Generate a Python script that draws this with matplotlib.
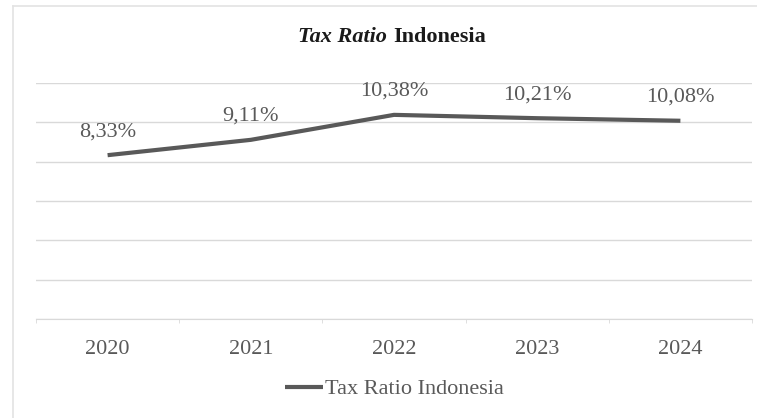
import matplotlib
matplotlib.use('Agg')
import matplotlib.pyplot as plt
from matplotlib.lines import Line2D

plt.rcParams['font.family'] = ['Liberation Serif', 'DejaVu Serif']

# data
years = ['2020', '2021', '2022', '2023', '2024']
tax_ratio = [8.33, 9.11, 10.38, 10.21, 10.08]
value_labels = ['8,33%', '9,11%', '10,38%', '10,21%', '10,08%']
series_name = 'Tax Ratio Indonesia'

grey_text = '#595959'
grid_col = '#d9d9d9'

fig = plt.figure(figsize=(7.57, 4.18), dpi=100)
ax = fig.add_axes([36 / 757, 1 - 319 / 418, (752 - 36) / 757, (319 - 83) / 418])

x = list(range(len(years)))
ax.plot(x, tax_ratio, color='#595959', lw=3, solid_capstyle='butt',
        label=series_name, zorder=3)

# data labels above points
for xi, v, lab in zip(x, tax_ratio, value_labels):
    ax.annotate(lab, (xi, v), xytext=(0, 17), textcoords='offset points',
                ha='center', va='center', fontsize=16, color=grey_text)

ax.set_xlim(-0.5, len(years) - 0.5)
ax.set_ylim(0, 12)
ax.set_yticks([0, 2, 4, 6, 8, 10, 12])
ax.set_yticklabels([])
ax.tick_params(axis='y', length=0)
ax.grid(axis='y', color=grid_col, lw=1)
ax.set_axisbelow(True)

ax.set_xticks(x)
ax.set_xticklabels(years, fontsize=16, color=grey_text)
ax.set_xticks([i - 0.5 for i in range(len(years) + 1)], minor=True)
ax.tick_params(axis='x', which='major', length=0, pad=15)
ax.tick_params(axis='x', which='minor', length=3, color=grid_col)

for side in ['top', 'right', 'left']:
    ax.spines[side].set_visible(False)
ax.spines['bottom'].set_color(grid_col)

# title: "Tax Ratio" bold italic, "Indonesia" bold
t1 = fig.text(0, 0, 'Tax Ratio ', fontsize=16, fontweight='bold', style='italic',
              color='#1a1a1a', va='center')
t2 = fig.text(0, 0, 'Indonesia', fontsize=16, fontweight='bold',
              color='#1a1a1a', va='center')
fig.canvas.draw()
r = fig.canvas.get_renderer()
w1 = t1.get_window_extent(r).width
w2 = t2.get_window_extent(r).width
W = fig.bbox.width
start = 392 - (w1 + w2) / 2
ty = 1 - 37 / 418
t1.set_position((start / W, ty))
t2.set_position(((start + w1) / W, ty))

# legend
handle = Line2D([], [], color='#595959', lw=3, solid_capstyle='butt')
fig.legend([handle], [series_name], loc='center',
           bbox_to_anchor=(394 / 757, 1 - 389 / 418), frameon=False,
           handlelength=1.75, handletextpad=0.05, prop={'size': 16},
           labelcolor=grey_text)

# chart border
fig.add_artist(Line2D([13 / 757, 13 / 757], [0, 1 - 6 / 418],
                      transform=fig.transFigure, color='#e3e3e3', lw=1.2))
fig.add_artist(Line2D([13 / 757, 1], [1 - 6 / 418, 1 - 6 / 418],
                      transform=fig.transFigure, color='#e3e3e3', lw=1.2))

fig.savefig('out.png', dpi=100)
